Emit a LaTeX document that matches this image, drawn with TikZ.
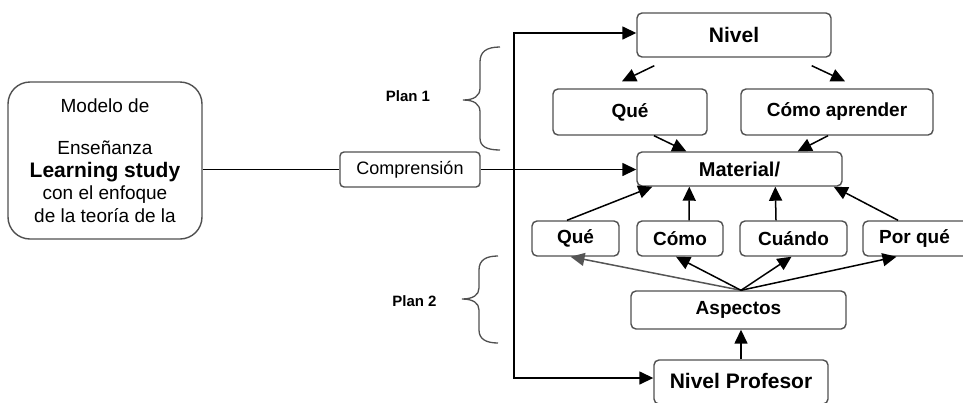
\documentclass[tikz,border=0pt]{standalone}
\usepackage{fontspec}
\setmainfont{Liberation Sans}
\usetikzlibrary{arrows.meta,calc}
\definecolor{boxline}{HTML}{505050}
\definecolor{grayarrow}{HTML}{555555}
\begin{document}
\begin{tikzpicture}[x=1pt,y=-1pt,
  box/.style={draw=boxline,line width=1.4pt,rounded corners=5pt,inner sep=0pt,
    font=\fontsize{19}{22}\selectfont\bfseries},
  arr/.style={line width=1.5pt,-{Triangle[length=14pt,width=13pt]}},
  plain/.style={line width=1.5pt},
  bracestyle/.style={draw=boxline,line width=1.3pt},
  plantext/.style={font=\fontsize{15}{18}\selectfont\bfseries,inner sep=0pt}]
\useasboundingbox (0,0) rectangle (963,402);
% nodes
\node[box,minimum width=194pt,minimum height=44pt,font=\fontsize{21}{24}\selectfont\bfseries] (nivel) at (734,35) {\raisebox{1pt}{Nivel}};
\node[box,minimum width=154pt,minimum height=46pt] (qa) at (630,112) {\raisebox{3pt}{Qué}};
\node[box,minimum width=192pt,minimum height=46pt] (ca) at (837,112) {\raisebox{3pt}{Cómo aprender}};
\node[box,minimum width=205pt,minimum height=34pt,font=\fontsize{20}{22}\selectfont\bfseries] (mat) at (739.5,169) {Material/};
\node[box,minimum width=87pt,minimum height=35pt] (que) at (575.5,238.5) {Qué};
\node[box,minimum width=86pt,minimum height=35pt] (como) at (680,238.5) {Cómo};
\node[box,minimum width=107pt,minimum height=35pt] (cuando) at (793.5,238.5) {Cuándo};
\node[box,minimum width=108pt,minimum height=35pt] (porque) at (917,238.5) {\hspace*{-5pt}Por qué};
\node[box,minimum width=215pt,minimum height=38pt] (asp) at (738.5,310) {Aspectos};
\node[box,minimum width=174pt,minimum height=44pt,font=\fontsize{21}{24}\selectfont\bfseries] (prof) at (741,382) {\raisebox{2pt}{Nivel Profesor}};
\node[draw=boxline,line width=1.4pt,rounded corners=22pt,minimum width=194pt,minimum height=157pt,inner sep=0pt,align=center,
  font=\fontsize{19}{22.5}\selectfont] (modelo) at (105,160.5)
  {Modelo de\\[20pt]Enseñanza\\{\fontsize{21}{22.5}\selectfont\bfseries Learning study}\\con el enfoque\\de la teoría de la};
\node[draw=boxline,line width=1.4pt,rounded corners=4pt,minimum width=140pt,minimum height=35pt,inner sep=0pt,
  font=\fontsize{18}{20}\selectfont] (comp) at (410,169.5) {Comprensión};
\node[plantext] (plan1) at (408,96) {Plan 1};
\node[plantext] (plan2) at (414.5,301) {Plan 2};
% braces
\draw[bracestyle] (500,47) .. controls (486,47) and (480,52) .. (480,62) -- (480,88)
  .. controls (480,96) and (474,100) .. (463,100) .. controls (474,100) and (480,104) .. (480,112)
  -- (480,138) .. controls (480,146) and (486,150) .. (500,150);
\draw[bracestyle] (498,256) .. controls (486,256) and (479,260) .. (479,270) -- (479,288)
  .. controls (479,295) and (473,299) .. (462,299) .. controls (473,299) and (479,303) .. (479,310)
  -- (479,330) .. controls (479,339) and (486,343) .. (498,343);
% connectors
\draw[plain] (modelo.east |- comp.west) -- (comp.west);
\draw[arr] (comp.east) -- (mat.west |- comp.east);
\draw[line width=1.5pt,{Triangle[length=14pt,width=13pt]}-{Triangle[length=14pt,width=13pt]}]
  ([yshift=2pt]nivel.west) -| (514,200) |- ([yshift=4pt]prof.west);
\draw[arr] ($(nivel.south west)+(18,8)$) -- ($(qa.north)+(-8,-7)$);
\draw[arr] ($(nivel.south east)+(-20,8)$) -- ($(ca.north)+(8,-7)$);
\draw[arr] ($(qa.south)+(24,0)$) -- ($(mat.north west)+(50,0)$);
\draw[arr] ($(ca.south)+(-9,0)$) -- ($(mat.north east)+(-45,0)$);
\draw[arr] ($(que.north)+(-8.5,0)$) -- ($(mat.south west)+(16,0)$);
\draw[arr] ($(como.north)+(9,0)$) -- ($(mat.south west)+(53,0)$);
\draw[arr] ($(cuando.north)+(-17.5,0)$) -- ($(mat.south west)+(139,0)$);
\draw[arr] ($(porque.north)+(-19,0)$) -- ($(mat.south east)+(-9,0)$);
\coordinate (asptop) at ($(asp.north)+(2.5,0)$);
\draw[arr,draw=grayarrow,fill=grayarrow] (asptop) -- ($(que.south)+(-5,0)$);
\draw[arr] (asptop) -- ($(como.south)+(-4,0)$);
\draw[arr] (asptop) -- ($(cuando.south)+(-2,0)$);
\draw[arr] (asptop) -- ($(porque.south)+(-20.5,0)$);
\draw[arr] (prof.north) -- (prof.north |- asp.south);
\end{tikzpicture}
\end{document}
